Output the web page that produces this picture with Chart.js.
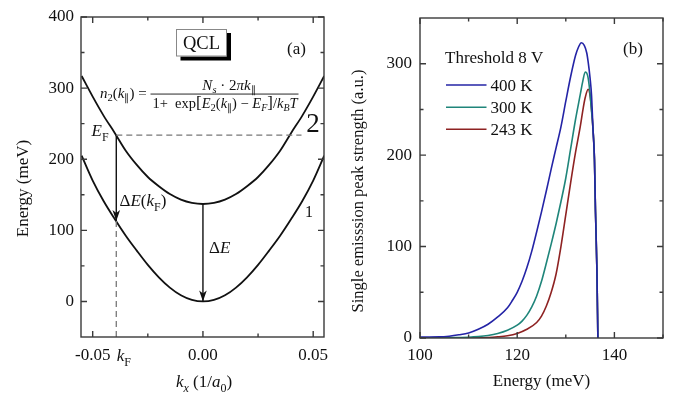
<!DOCTYPE html>
<html>
<head>
<meta charset="utf-8">
<script src="https://cdn.jsdelivr.net/npm/chart.js@4"></script>
<style>
    html, body { margin: 0; padding: 0; background: #fff; }
    #wrap { position: relative; width: 679px; height: 396px; }
    canvas { position: absolute; top: 0; }
</style>
</head>
<body>
<div id="wrap">
    <canvas id="bandChart" width="340" height="396" style="left:0"></canvas>
    <canvas id="peakChart" width="339" height="396" style="left:340px"></canvas>
</div>
<script>
/***************************************************************
 * DATA — panel (a) : subband dispersion
 ***************************************************************/
const kx    = [-0.055, -0.05, -0.045, -0.04, -0.035, -0.03, -0.025, -0.02, -0.015, -0.01, -0.005, 0,
                0.005, 0.01, 0.015, 0.02, 0.025, 0.03, 0.035, 0.04, 0.045, 0.05, 0.055];
const band1 = [205, 170, 141, 116, 92.5, 71.5, 51.5, 34, 19.5, 8.7, 2.2, 0,
               2.2, 8.7, 19.5, 34, 51.5, 71.5, 92.5, 116, 141, 170, 205];
const band2 = [317, 288, 261, 237, 212, 192, 175, 162, 151, 143.2, 138.6, 137,
               138.6, 143.2, 151, 162, 175, 192, 212, 237, 261, 288, 317];

const kF = -0.0393;      // Fermi wave vector
const EF = 234;          // Fermi level (meV)
const E1atKF = 113;      // band 1 at kF
const E2min = 137;       // band 2 bottom
const efLineEnd = 0.0447;

const bandXMajor = [-0.05, 0, 0.05];
const bandXMinor = [-0.025, 0.025];
const bandYMajor = [0, 100, 200, 300, 400];
const bandYMinor = [50, 150, 250, 350];

/***************************************************************
 * DATA — panel (b) : single emission peak strength
 ***************************************************************/
const energy400   = [100, 104, 106, 108, 110, 112, 114, 116, 118, 119, 120, 121, 122, 123, 124, 125, 126, 127, 128,
                     129, 130, 131, 132, 132.6, 133.2, 133.8, 134.3, 134.6, 135, 135.3, 135.6, 135.9, 136.1, 136.4, 136.6];
const strength400 = [1, 1.2, 2, 3.5, 5.5, 9.5, 15, 23, 33, 41, 50, 62, 77, 95, 116, 138, 161, 185, 208,
                     231, 259, 286, 309, 318, 323, 320, 312, 302, 284, 265, 228, 195, 140, 75, 0];

const energy300   = [100, 105, 110, 112, 114, 116, 118, 120, 121, 122, 123, 124, 125, 126, 127, 128, 129, 130,
                     131, 132, 133, 133.5, 134, 134.5, 134.9, 135.2, 135.6, 135.9, 136.1, 136.4, 136.6];
const strength300 = [0.3, 0.4, 0.8, 1.5, 2.8, 5, 8.5, 14, 18.5, 25, 34, 46, 62, 82, 103, 125, 149, 175,
                     207, 239, 267, 281, 291, 287, 272, 254, 228, 195, 140, 75, 0];

const energy243   = [100, 110, 114, 116, 118, 120, 122, 124, 125, 126, 127, 128, 129, 130, 131, 132, 133,
                     133.6, 134, 134.6, 135, 135.3, 135.6, 135.9, 136.1, 136.4, 136.6];
const strength243 = [0, 0.2, 0.6, 1.3, 2.5, 5, 9.5, 17, 24, 35, 50, 70, 100, 135, 170, 203, 232,
                     252, 263, 272, 265, 250, 228, 195, 140, 75, 0];

const peakXMajor = [100, 120, 140];
const peakXMinor = [110, 130, 150];
const peakYMajor = [0, 100, 200, 300];
const peakYMinor = [50, 150, 250];

/***************************************************************
 * HELPERS
 ***************************************************************/
const SERIF = '"Liberation Serif", "Times New Roman", serif';
const INK = '#111';

function fnt(size, italic) {
    return (italic ? 'italic ' : '') + size + 'px ' + SERIF;
}

// parts : [text, size, italic, dy]
function rich(ctx, parts, x, y, align) {
    let w = 0;
    parts.forEach(p => { ctx.font = fnt(p[1], p[2]); w += ctx.measureText(p[0]).width; });
    let cx = align === 'center' ? x - w / 2 : align === 'right' ? x - w : x;
    ctx.textAlign = 'left';
    ctx.textBaseline = 'alphabetic';
    parts.forEach(p => {
        ctx.font = fnt(p[1], p[2]);
        ctx.fillText(p[0], cx, y + (p[3] || 0));
        cx += ctx.measureText(p[0]).width;
    });
    return w;
}

function arrowHead(ctx, x, y) {
    ctx.beginPath();
    ctx.moveTo(x, y);
    ctx.lineTo(x - 3.8, y - 11);
    ctx.lineTo(x, y - 8);
    ctx.lineTo(x + 3.8, y - 11);
    ctx.closePath();
    ctx.fill();
}

function pts(xs, ys) {
    return xs.map((v, i) => ({ x: v, y: ys[i] }));
}

/***************************************************************
 * FRAME + MIRRORED INWARD TICKS
 ***************************************************************/
const framePlugin = {
    id: 'frame',
    afterDraw(chart, args, o) {
        const { ctx, chartArea: a, scales: { x, y } } = chart;
        ctx.save();
        ctx.strokeStyle = '#3a3a3a';
        ctx.lineWidth = 1.4;
        ctx.strokeRect(a.left, a.top, a.right - a.left, a.bottom - a.top);
        ctx.beginPath();
        const xt = (vals, len) => vals.forEach(v => {
            const p = x.getPixelForValue(v);
            ctx.moveTo(p, a.bottom); ctx.lineTo(p, a.bottom - len);
            ctx.moveTo(p, a.top); ctx.lineTo(p, a.top + len);
        });
        const yt = (vals, len) => vals.forEach(v => {
            const p = y.getPixelForValue(v);
            ctx.moveTo(a.left, p); ctx.lineTo(a.left + len, p);
            ctx.moveTo(a.right, p); ctx.lineTo(a.right - len, p);
        });
        xt(o.xMajor, 6); xt(o.xMinor, 3.5);
        yt(o.yMajor, 6); yt(o.yMinor, 3.5);
        ctx.stroke();
        ctx.restore();
    }
};

function axisCfg(min, max, major, label, fitKey, fitVal, pad) {
    return {
        type: 'linear', min: min, max: max,
        grid: { display: false, drawTicks: false },
        border: { display: false },
        ticks: { font: { family: SERIF, size: 17 }, color: INK, padding: pad, callback: label },
        afterBuildTicks: s => { s.ticks = major.map(v => ({ value: v })); },
        afterFit: s => {
            s[fitKey] = fitVal;
            s.paddingLeft = s.paddingRight = s.paddingTop = s.paddingBottom = 0;
        }
    };
}

/***************************************************************
 * PANEL (a)
 ***************************************************************/
const bandNotes = {
    id: 'bandNotes',
    afterDraw(chart) {
        const { ctx, scales: { x, y } } = chart;
        ctx.save();
        ctx.fillStyle = INK;

        // arrow heads
        arrowHead(ctx, x.getPixelForValue(kF), y.getPixelForValue(E1atKF));
        arrowHead(ctx, x.getPixelForValue(0), y.getPixelForValue(0));

        // QCL box
        ctx.fillStyle = '#000';
        ctx.fillRect(180.5, 33, 50.5, 27.5);
        ctx.fillStyle = '#fff';
        ctx.fillRect(176, 29.5, 50.5, 27);
        ctx.strokeStyle = '#888';
        ctx.lineWidth = 1;
        ctx.strokeRect(176.5, 29.5, 50, 26.5);
        ctx.fillStyle = INK;
        rich(ctx, [['QCL', 18.5]], 201.5, 48.5, 'center');

        rich(ctx, [['(a)', 17]], 296.5, 53.5, 'center');

        // formula
        rich(ctx, [['n', 15, true], ['2', 10.5, false, 3], ['(', 15], ['k', 15, true], ['\u2225', 9.5, false, 3],
                   [') =', 15]], 100, 97.5, 'left');
        rich(ctx, [['N', 15, true], ['s', 10.5, true, 3], [' \u00b7 2', 15], ['\u03c0', 15, true],
                   ['k', 15, true], ['\u2225', 9.5, false, 3]], 229, 90, 'center');
        ctx.fillRect(150.5, 93.6, 148, 0.9);
        rich(ctx, [['1+  exp', 14.5], ['[', 17], ['E', 14.5, true], ['2', 10.5, false, 3], ['(', 14.5],
                   ['k', 14.5, true], ['\u2225', 9.5, false, 3], [')', 14.5], [' \u2212 ', 14.5], ['E', 14.5, true],
                   ['F', 10, true, 3], [']', 17], ['/', 14.5], ['k', 14.5, true], ['B', 10, true, 3],
                   ['T', 14.5, true]], 225, 108, 'center');

        // curve labels
        rich(ctx, [['E', 17, true], ['F', 12, false, 5]], 91.5, 136, 'left');
        rich(ctx, [['2', 27]], 313, 132, 'center');
        rich(ctx, [['1', 16]], 309, 216.5, 'center');
        rich(ctx, [['\u0394', 17], ['E', 17, true], ['(', 17], ['k', 17, true], ['F', 12, false, 5], [')', 17]],
             119.5, 205.5, 'left');
        rich(ctx, [['\u0394', 17], ['E', 17, true]], 209, 252.5, 'left');

        // kF tick label
        rich(ctx, [['k', 17, true], ['F', 12, false, 5]], x.getPixelForValue(kF) + 0.5, 360.5, 'left');

        // axis titles
        rich(ctx, [['k', 17, true], ['x', 12, true, 5], [' (1/', 17], ['a', 17, true], ['0', 12, false, 5],
                   [')', 17]], 204, 387, 'center');
        ctx.translate(22, 188.5);
        ctx.rotate(-Math.PI / 2);
        rich(ctx, [['Energy (meV)', 17]], 0, 6, 'center');
        ctx.restore();
    }
};

new Chart(document.getElementById('bandChart'), {
    type: 'line',
    data: {
        datasets: [
            { data: [{ x: kF, y: EF }, { x: efLineEnd, y: EF }], borderColor: '#777', borderWidth: 1.3,
              borderDash: [6, 4], pointRadius: 0 },
            { data: [{ x: kF, y: -50 }, { x: kF, y: E1atKF }], borderColor: '#777', borderWidth: 1.3,
              borderDash: [6, 4], pointRadius: 0 },
            { data: [{ x: kF, y: EF }, { x: kF, y: E1atKF }], borderColor: INK, borderWidth: 1.4, pointRadius: 0 },
            { data: [{ x: 0, y: E2min }, { x: 0, y: 0 }], borderColor: INK, borderWidth: 1.4, pointRadius: 0 },
            { data: pts(kx, band1), borderColor: INK, borderWidth: 1.8, pointRadius: 0, cubicInterpolationMode: 'monotone' },
            { data: pts(kx, band2), borderColor: INK, borderWidth: 1.8, pointRadius: 0, cubicInterpolationMode: 'monotone' }
        ]
    },
    options: {
        responsive: false, animation: false, devicePixelRatio: 1,
        layout: { padding: { top: 17, right: 16, bottom: 0, left: 0 } },
        plugins: {
            legend: { display: false }, tooltip: { enabled: false },
            frame: { xMajor: bandXMajor, xMinor: bandXMinor, yMajor: bandYMajor, yMinor: bandYMinor }
        },
        scales: {
            x: axisCfg(-0.0553, 0.0549, bandXMajor, v => v.toFixed(2), 'height', 59, 8),
            y: axisCfg(-50, 400, bandYMajor, v => String(v), 'width', 81, 7)
        }
    },
    plugins: [framePlugin, bandNotes]
});

/***************************************************************
 * PANEL (b)
 ***************************************************************/
const peakNotes = {
    id: 'peakNotes',
    afterDraw(chart) {
        const { ctx } = chart;
        ctx.save();
        ctx.fillStyle = INK;
        rich(ctx, [['(b)', 17]], 293, 54, 'center');
        rich(ctx, [['Threshold 8 V', 17]], 105, 62.5, 'left');

        const rows = [85, 107.3, 129.3];
        chart.data.datasets.forEach((ds, i) => {
            ctx.strokeStyle = ds.borderColor;
            ctx.lineWidth = 1.6;
            ctx.beginPath();
            ctx.moveTo(106, rows[i]);
            ctx.lineTo(146.5, rows[i]);
            ctx.stroke();
            rich(ctx, [[ds.label, 17]], 150.5, rows[i] + 6, 'left');
        });

        rich(ctx, [['Energy (meV)', 17]], 201.5, 386, 'center');
        ctx.translate(17, 191);
        ctx.rotate(-Math.PI / 2);
        rich(ctx, [['Single emisssion peak strength (a.u.)', 16.5]], 0, 6, 'center');
        ctx.restore();
    }
};

new Chart(document.getElementById('peakChart'), {
    type: 'line',
    data: {
        datasets: [
            { label: '400 K', data: pts(energy400, strength400), borderColor: '#2424a6' },
            { label: '300 K', data: pts(energy300, strength300), borderColor: '#1f857a' },
            { label: '243 K', data: pts(energy243, strength243), borderColor: '#8e2222' }
        ].map(d => Object.assign(d, { borderWidth: 1.6, pointRadius: 0, cubicInterpolationMode: 'monotone' }))
    },
    options: {
        responsive: false, animation: false, devicePixelRatio: 1,
        layout: { padding: { top: 18, right: 16, bottom: 0, left: 0 } },
        plugins: {
            legend: { display: false }, tooltip: { enabled: false },
            frame: { xMajor: peakXMajor, xMinor: peakXMinor, yMajor: peakYMajor, yMinor: peakYMinor }
        },
        scales: {
            x: axisCfg(100, 150, peakXMajor, v => String(v), 'height', 58, 7),
            y: axisCfg(0, 350, peakYMajor, v => String(v), 'width', 80, 8)
        }
    },
    plugins: [framePlugin, peakNotes]
});
</script>
</body>
</html>
